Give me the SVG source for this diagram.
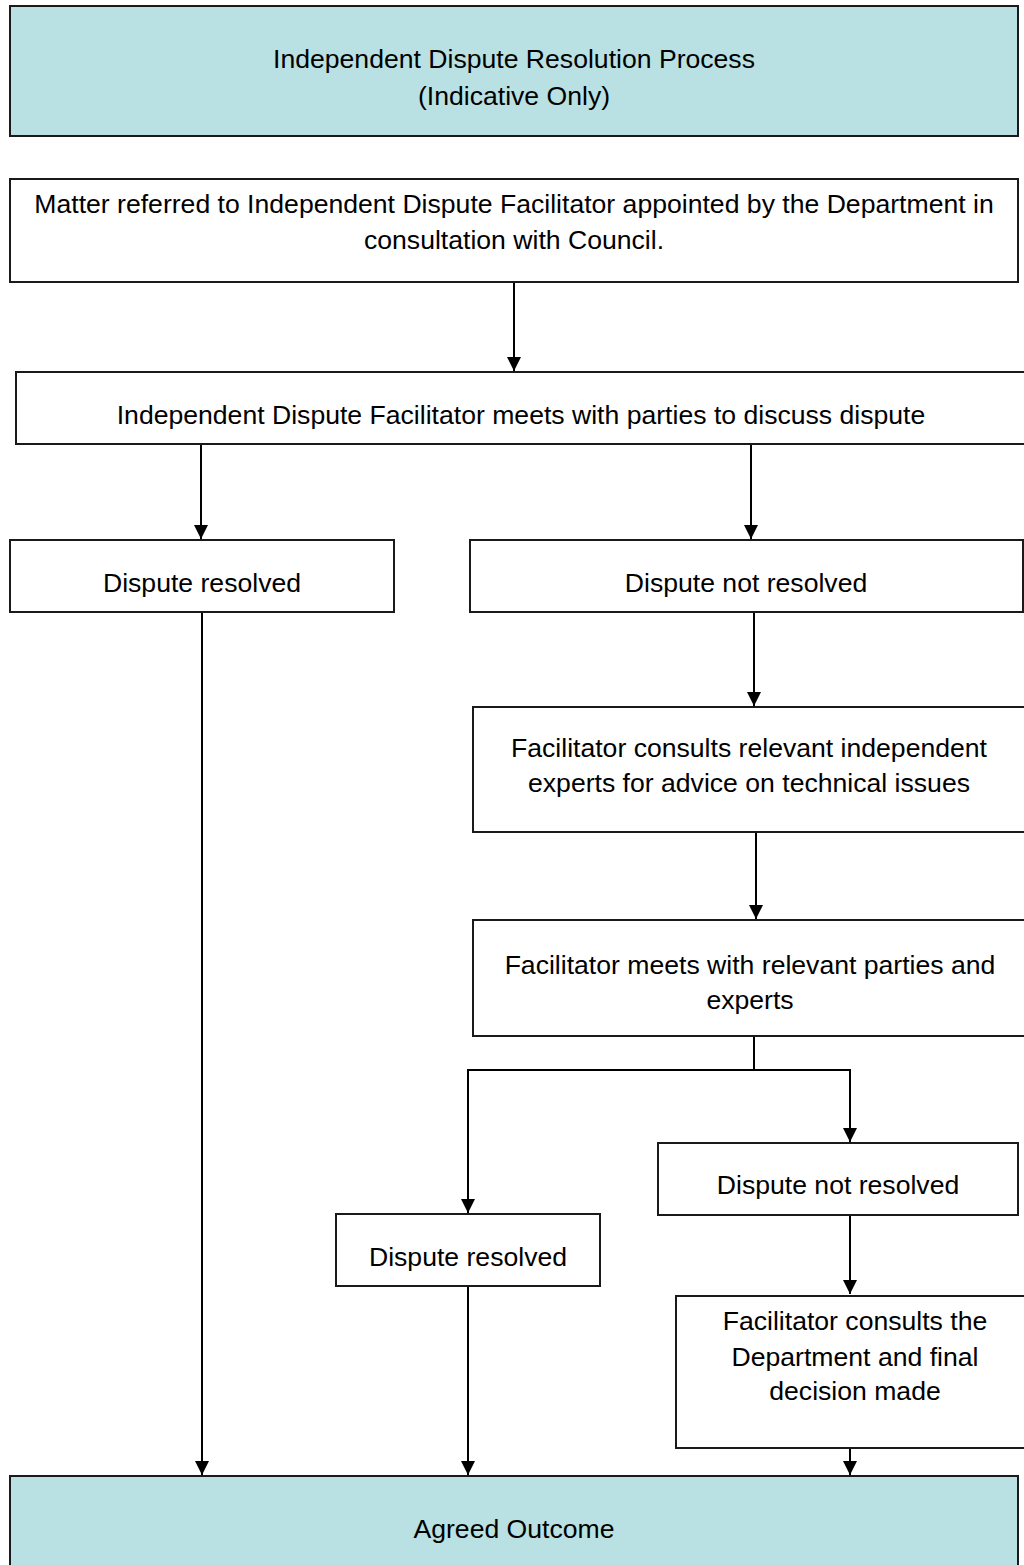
<svg xmlns="http://www.w3.org/2000/svg" width="1024" height="1565" viewBox="0 0 1024 1565">
<defs>
<style>
.box{fill:#ffffff;stroke:#1a1a1a;stroke-width:2}
.hl{fill:#b9e0e2;stroke:#1a1a1a;stroke-width:2}
text{font-family:"Liberation Sans",Arial,sans-serif;font-size:26.6px;fill:#000;text-anchor:middle}
.c{fill:none;stroke:#000;stroke-width:2}
</style>
<marker id="ah" viewBox="0 0 14 14" refX="14" refY="7" markerWidth="14" markerHeight="14" markerUnits="userSpaceOnUse" orient="auto">
<path d="M0,0 L14,7 L0,14 z" fill="#000"/>
</marker>
</defs>
<rect width="1024" height="1565" fill="#ffffff"/>
<g id="connectors">
<line class="c" x1="514" y1="282" x2="514" y2="371" marker-end="url(#ah)"/>
<line class="c" x1="201" y1="444" x2="201" y2="539" marker-end="url(#ah)"/>
<line class="c" x1="751" y1="444" x2="751" y2="539" marker-end="url(#ah)"/>
<line class="c" x1="754" y1="612" x2="754" y2="706" marker-end="url(#ah)"/>
<line class="c" x1="756" y1="832" x2="756" y2="919" marker-end="url(#ah)"/>
<polyline class="c" points="754,1036 754,1070 468,1070 468,1213" marker-end="url(#ah)"/>
<polyline class="c" points="754,1070 850,1070 850,1142" marker-end="url(#ah)"/>
<line class="c" x1="850" y1="1215" x2="850" y2="1294" marker-end="url(#ah)"/>
<line class="c" x1="850" y1="1448" x2="850" y2="1475" marker-end="url(#ah)"/>
<line class="c" x1="202" y1="612" x2="202" y2="1475" marker-end="url(#ah)"/>
<line class="c" x1="468" y1="1286" x2="468" y2="1475" marker-end="url(#ah)"/>
</g>
<g id="title">
<rect class="hl" x="10" y="6" width="1008" height="130"/>
<text x="514" y="68">Independent Dispute Resolution Process</text>
<text x="514" y="105">(Indicative Only)</text>
</g>
<g id="referred">
<rect class="box" x="10" y="179" width="1008" height="103"/>
<text x="514" y="213">Matter referred to Independent Dispute Facilitator appointed by the Department in</text>
<text x="514" y="249">consultation with Council.</text>
</g>
<g id="meets">
<rect class="box" x="16" y="372" width="1020" height="72"/>
<text x="521" y="424">Independent Dispute Facilitator meets with parties to discuss dispute</text>
</g>
<g id="resolved1">
<rect class="box" x="10" y="540" width="384" height="72"/>
<text x="202" y="592">Dispute resolved</text>
</g>
<g id="notresolved1">
<rect class="box" x="470" y="540" width="553" height="72"/>
<text x="746" y="592">Dispute not resolved</text>
</g>
<g id="experts">
<rect class="box" x="473" y="707" width="563" height="125"/>
<text x="749" y="757">Facilitator consults relevant independent</text>
<text x="749" y="792">experts for advice on technical issues</text>
</g>
<g id="meetsexperts">
<rect class="box" x="473" y="920" width="563" height="116"/>
<text x="750" y="974">Facilitator meets with relevant parties and</text>
<text x="750" y="1009">experts</text>
</g>
<g id="notresolved2">
<rect class="box" x="658" y="1143" width="360" height="72"/>
<text x="838" y="1194">Dispute not resolved</text>
</g>
<g id="resolved2">
<rect class="box" x="336" y="1214" width="264" height="72"/>
<text x="468" y="1266">Dispute resolved</text>
</g>
<g id="final">
<rect class="box" x="676" y="1296" width="360" height="152"/>
<text x="855" y="1330">Facilitator consults the</text>
<text x="855" y="1366">Department and final</text>
<text x="855" y="1400">decision made</text>
</g>
<g id="outcome">
<rect class="hl" x="10" y="1476" width="1008" height="100"/>
<text x="514" y="1538">Agreed Outcome</text>
</g>
</svg>
